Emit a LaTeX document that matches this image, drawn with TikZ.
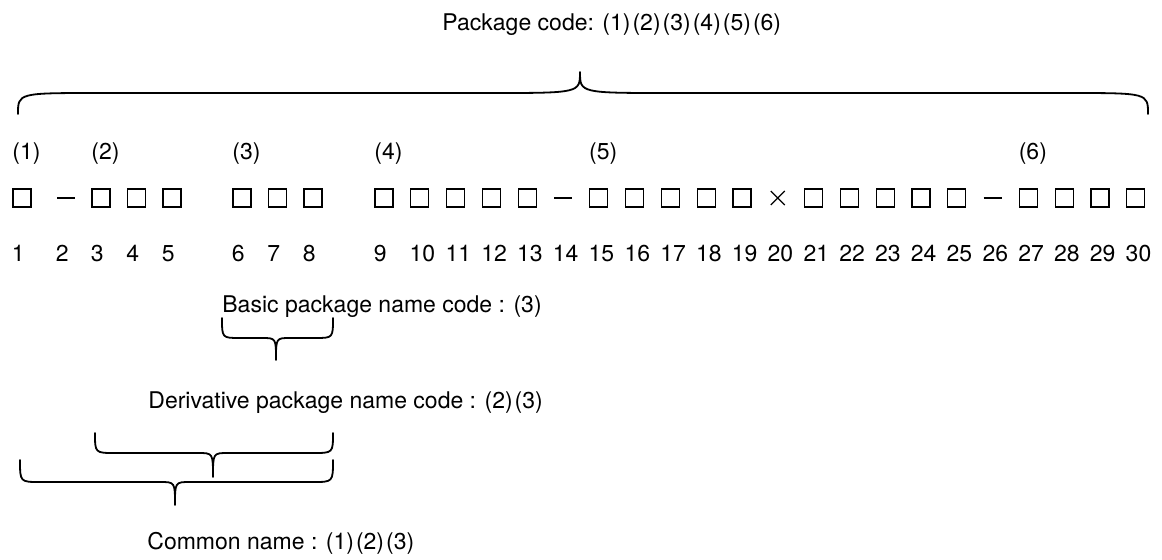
\documentclass[tikz,border=0pt]{standalone}
\usepackage{fontspec}
\setmainfont{TeX Gyre Heros}
\usepackage{tikz}
\tikzset{
  txt/.style={inner sep=0pt, anchor=base west, font=\fontsize{11.5}{14}\selectfont},
  cell/.style={draw, line width=0.6pt, minimum size=9pt, inner sep=0pt},
  bar/.style={line width=0.6pt},
  brace/.style={line width=0.9pt, line cap=round, line join=round}
}
\newcommand{\codebrace}[8]{%
  \draw[brace] (#1,#4) .. controls (#1,#5) .. (#1+#7,#5) -- (#2-#8,#5)
    .. controls (#2,#5) .. (#2,#6) .. controls (#2,#5) .. (#2+#8,#5)
    -- (#3-#7,#5) .. controls (#3,#5) .. (#3,#4);}

\begin{document}
\begin{tikzpicture}[x=0.5pt,y=-0.5pt]
\useasboundingbox (0,0) rectangle (1162,559);
\node[txt] (title) at (442,30) {Package code: (1)\kern1pt(2)\kern1pt(3)\kern1pt(4)\kern1pt(5)\kern1pt(6)};
\codebrace{18}{580}{1148}{114}{93}{72}{80}{90}
\foreach \i/\x in {1/22,2/101,3/242,4/384,5/598.8,6/1028.4}
  \node[txt] (p\i) at (\x-10,159) {(\i)};
\foreach \k/\x in {1/22,3/101,4/136.5,5/172,6/242,7/277.5,8/313}
  \node[cell] (b\k) at (\x,198) {};
\foreach \k in {9,10,11,12,13,15,16,17,18,19,21,22,23,24,25,27,28,29,30}
  \node[cell] (b\k) at (35.8*\k+61.8,198) {};
\foreach \x in {66,563,992.6}
  \draw[bar] (\x-9,198) -- (\x+9,198);
\draw[bar] (770.8,191) -- (784.8,205) (770.8,205) -- (784.8,191);
\foreach \k/\x in {1/22,2/66,3/101,4/136.5,5/172,6/242,7/277.5,8/313}
  \node[txt] (n\k) at (\x-10.5,261) {\k};
\foreach \k in {9,...,30}
  \node[txt] (n\k) at (35.8*\k+51.3,261) {\k};
\node[txt] (basic) at (222,312) {Basic package name code : (3)};
\codebrace{222}{276}{333}{318}{338}{360}{18}{14}
\node[txt] (deriv) at (148,408) {Derivative package name code : (2)\kern1pt(3)};
\codebrace{95}{213}{333}{433}{453}{477}{20}{15}
\codebrace{20}{175}{333}{460}{482}{505}{20}{15}
\node[txt] (common) at (147,549) {Common name : (1)\kern1pt(2)\kern1pt(3)};
\end{tikzpicture}
\end{document}
